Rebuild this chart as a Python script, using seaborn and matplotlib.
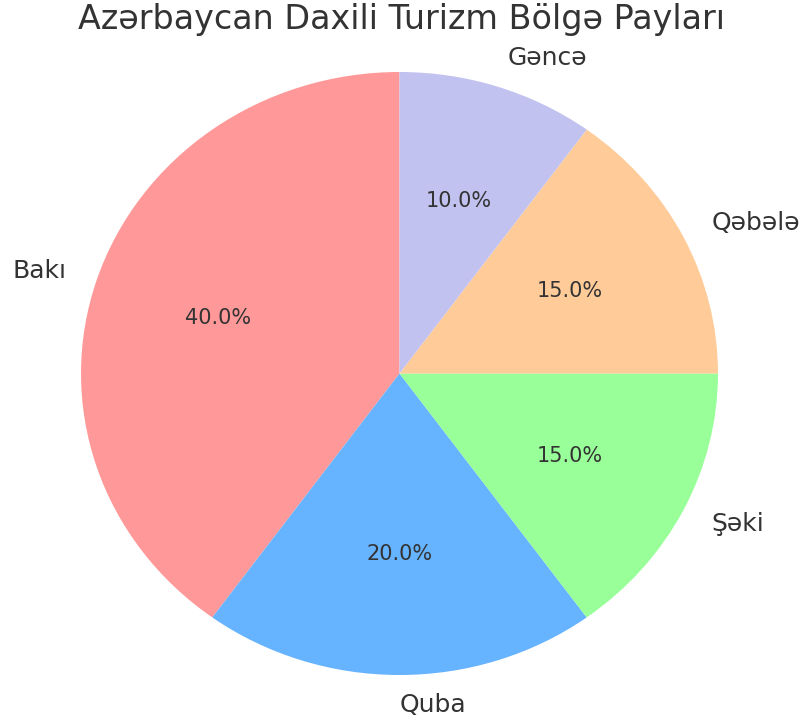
import matplotlib
matplotlib.use("Agg")
import matplotlib.pyplot as plt
import seaborn as sns

regions = ["Bakı", "Quba", "Şəki", "Qəbələ", "Gəncə"]
shares = [40, 20, 15, 15, 10]
colors = ["#ff9999", "#66b3ff", "#99ff99", "#ffcc99", "#c2c2f0"]

sns.set_theme(style="white")
plt.rcParams['font.family'] = ['DejaVu Sans']

W, H = 803, 718
fig = plt.figure(figsize=(W / 100, H / 100), dpi=100)
# pie is slightly stretched horizontally in the reference
cx, cy, rx, ry = 399.5, 373.5, 318.5, 301.5
ax = fig.add_axes([(cx - 1.25 * rx) / W, (H - cy - 1.25 * ry) / H,
                   2.5 * rx / W, 2.5 * ry / H])
wedges, texts, autotexts = ax.pie(
    shares, labels=regions, colors=colors, autopct="%1.1f%%",
    startangle=90, wedgeprops={"linewidth": 0},
    textprops={"fontsize": 15, "color": "#333333"},
)
for t in texts:
    t.set_fontsize(18)
ax.set_aspect("auto")
ax.set_xlim(-1.25, 1.25)
ax.set_ylim(-1.25, 1.25)
fig.text(0.5, 1 - 20 / H, "Azərbaycan Daxili Turizm Bölgə Payları",
         fontsize=24, color="#333333", ha="center", va="center")
fig.savefig("out.png", dpi=100)
